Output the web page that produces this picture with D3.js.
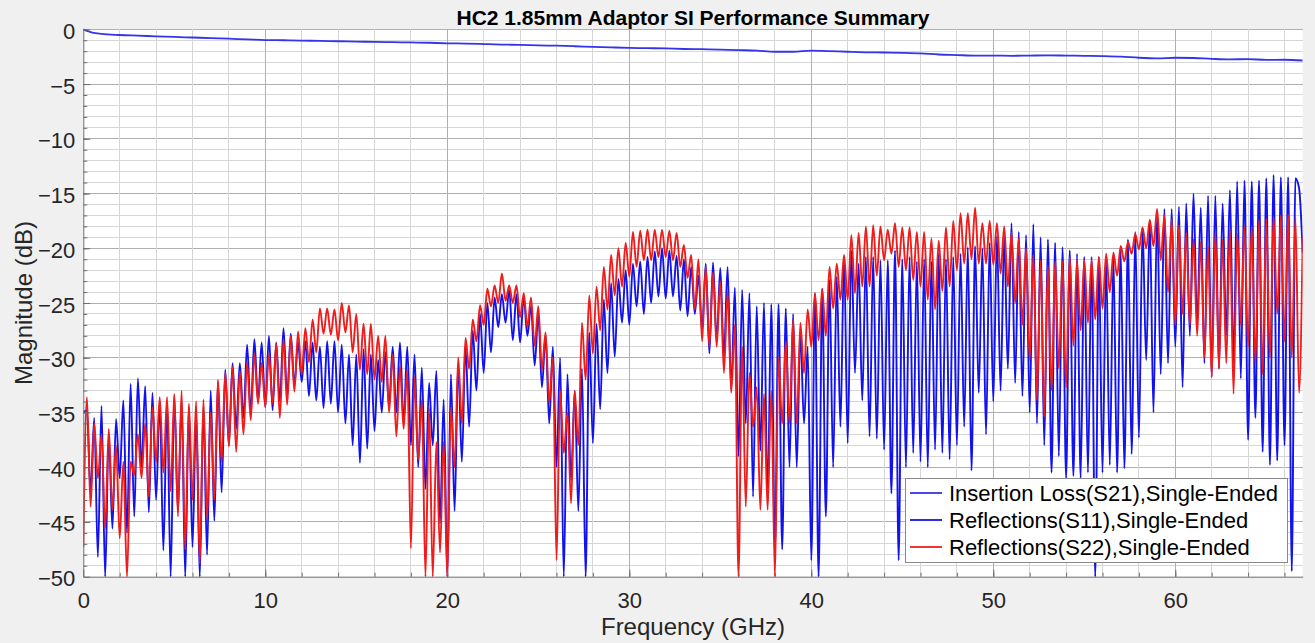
<!DOCTYPE html>
<html><head><meta charset="utf-8">
<script src="https://cdn.jsdelivr.net/npm/d3@7"></script>
<style>
html,body{margin:0;padding:0;background:#f0f0f0;}
svg{display:block;font-family:"Liberation Sans",Arial,Helvetica,sans-serif;}
</style></head><body>
<svg id="chart" width="1315" height="643"></svg>
<script>
// ---------- data ----------
const titleText = "HC2 1.85mm Adaptor SI Performance Summary";
const xLabel = "Frequency (GHz)";
const yLabel = "Magnitude (dB)";
const xTicks = [0, 10, 20, 30, 40, 50, 60];
const yTicks = [0, -5, -10, -15, -20, -25, -30, -35, -40, -45, -50];
const seriesNames = ["Insertion Loss(S21),Single-Ended", "Reflections(S11),Single-Ended", "Reflections(S22),Single-Ended"];

// S21 (insertion loss)
const s21Freq = [0,0.5,1,2,3,4,5,6,7,8,9,10,11,12,13,14,15,16,17,18,19,20,21,22,23,24,25,26,27,28,29,30,31,32,33,34,35,36,37,38,39,40,41,42,43,44,45,46,47,48,49,50,51,52,53,54,55,56,57,58,59,60,61,62,63,64,65,66,67];
const s21 = [0,-0.3,-0.42,-0.52,-0.58,-0.64,-0.7,-0.75,-0.8,-0.86,-0.92,-0.98,-1.0,-1.03,-1.06,-1.09,-1.12,-1.15,-1.18,-1.2,-1.23,-1.28,-1.3,-1.35,-1.4,-1.42,-1.47,-1.5,-1.55,-1.6,-1.65,-1.7,-1.72,-1.75,-1.8,-1.82,-1.85,-1.9,-1.95,-2.05,-2.05,-1.95,-2.0,-2.05,-2.1,-2.12,-2.15,-2.2,-2.3,-2.35,-2.4,-2.4,-2.42,-2.4,-2.38,-2.4,-2.42,-2.45,-2.5,-2.6,-2.65,-2.6,-2.62,-2.7,-2.75,-2.72,-2.8,-2.78,-2.85];

// S11 / S22 read every 0.2 GHz (alternating ripple minima / maxima), 0 .. 67 GHz
const s11 = [
-35.0,-34.8,-42.3,-35.5,-48.2,-34.4,-50.0,-37.0,-45.6,-35.6,
-41.0,-33.9,-46.0,-32.4,-44.5,-31.9,-40.0,-32.6,-44.1,-33.2,
-43.0,-34.0,-47.6,-34.2,-50.0,-33.5,-44.0,-34.0,-50.0,-34.5,
-47.3,-35.0,-50.0,-34.5,-48.0,-33.0,-44.9,-32.2,-42.3,-31.1,
-38.0,-30.5,-36.5,-30.5,-35.5,-28.8,-35.0,-28.3,-34.0,-28.6,
-34.5,-28.0,-34.8,-28.6,-34.0,-27.3,-33.5,-27.8,-32.5,-28.6,
-32.2,-28.5,-33.5,-28.6,-33.9,-29.0,-34.6,-28.5,-34.2,-28.5,
-35.0,-28.8,-36.0,-29.7,-38.0,-29.7,-39.6,-29.2,-38.3,-29.7,
-36.7,-30.2,-35.0,-29.5,-34.5,-29.0,-35.0,-28.6,-36.0,-29.0,
-38.0,-29.7,-40.0,-30.9,-42.0,-32.3,-38.0,-31.2,-45.1,-33.8,
-50.0,-31.5,-44.0,-30.5,-39.5,-29.0,-36.3,-27.5,-33.0,-26.0,
-31.4,-25.0,-29.5,-24.5,-27.2,-24.2,-26.8,-23.8,-28.4,-24.2,
-28.6,-24.5,-28.0,-25.3,-30.7,-26.0,-32.7,-27.9,-36.0,-29.0,
-40.0,-30.0,-50.0,-31.5,-41.2,-33.0,-44.0,-31.0,-50.0,-27.7,
-37.8,-26.9,-34.7,-24.7,-31.4,-23.2,-29.9,-22.8,-26.8,-22.0,
-27.0,-21.4,-25.3,-21.2,-26.0,-20.8,-25.0,-20.3,-24.4,-20.0,
-24.6,-20.2,-24.4,-20.7,-25.7,-21.0,-26.2,-21.7,-26.0,-22.5,
-27.5,-21.4,-29.6,-21.3,-28.5,-21.8,-29.9,-21.7,-32.9,-23.6,
-39.0,-23.8,-36.0,-24.1,-42.7,-25.3,-38.5,-25.0,-42.7,-25.1,
-47.5,-25.1,-47.5,-25.5,-40.0,-26.0,-40.0,-27.7,-36.0,-29.0,
-48.5,-24.1,-50.0,-23.7,-44.5,-22.9,-40.0,-22.6,-36.3,-20.8,
-37.8,-20.2,-31.4,-21.4,-33.9,-20.8,-37.2,-20.8,-37.4,-21.1,
-38.4,-21.1,-42.4,-20.2,-48.5,-21.0,-40.0,-20.8,-38.7,-21.2,
-39.5,-21.0,-40.0,-21.2,-38.4,-20.5,-38.7,-21.0,-39.3,-20.8,
-38.0,-20.5,-36.3,-19.9,-40.3,-19.8,-33.2,-20.0,-37.0,-19.5,
-34.0,-18.9,-33.0,-19.0,-31.0,-17.7,-32.3,-18.5,-33.5,-18.8,
-35.0,-17.8,-36.0,-19.0,-38.0,-19.2,-40.5,-19.5,-39.0,-19.9,
-41.0,-20.2,-40.8,-20.5,-41.0,-20.8,-40.5,-20.8,-50.0,-20.8,
-40.5,-21.1,-39.8,-20.8,-40.5,-20.2,-40.1,-19.2,-38.8,-18.5,
-37.3,-18.1,-30.2,-17.5,-35.0,-16.8,-31.5,-16.4,-30.5,-16.4,
-29.0,-16.2,-32.7,-15.9,-28.0,-15.0,-27.0,-16.3,-30.5,-15.2,
-31.7,-15.2,-31.0,-15.9,-28.0,-14.7,-30.5,-13.9,-31.9,-13.8,
-37.5,-13.9,-35.5,-13.8,-38.6,-13.6,-39.8,-13.3,-39.4,-13.5,
-38.0,-13.5,-49.5,-13.6,-14.5,-20.4
];
const s22 = [
-47.3,-33.6,-43.6,-36.0,-41.0,-37.0,-45.6,-36.5,-43.9,-38.0,
-46.5,-39.5,-50.0,-39.5,-40.7,-37.0,-41.0,-36.0,-42.7,-34.5,
-39.5,-33.6,-40.5,-33.6,-42.2,-33.3,-44.5,-33.0,-47.5,-34.2,
-43.0,-34.0,-48.8,-33.8,-44.7,-35.0,-43.0,-32.0,-39.5,-31.4,
-38.1,-30.8,-38.6,-31.2,-37.0,-30.4,-35.7,-29.6,-34.2,-30.5,
-34.5,-29.7,-34.2,-28.7,-35.5,-28.3,-34.3,-28.0,-33.1,-27.6,
-31.5,-27.3,-30.4,-26.5,-29.5,-25.5,-27.8,-25.5,-27.9,-25.6,
-28.4,-25.0,-27.7,-25.2,-29.5,-26.0,-31.1,-26.9,-31.5,-26.9,
-32.0,-28.0,-32.2,-28.0,-35.0,-29.7,-37.2,-30.8,-36.5,-31.1,
-47.4,-31.8,-39.3,-33.9,-50.0,-34.6,-50.0,-37.7,-47.8,-37.7,
-50.0,-34.6,-40.0,-30.0,-36.0,-28.2,-31.0,-26.5,-28.5,-25.2,
-27.0,-23.7,-25.3,-23.4,-25.0,-22.3,-24.8,-23.4,-25.0,-23.4,
-26.3,-24.1,-27.2,-24.5,-28.9,-25.3,-31.1,-27.7,-34.1,-30.0,
-48.5,-33.0,-38.7,-35.0,-43.3,-33.0,-38.0,-26.8,-32.0,-24.3,
-29.6,-23.5,-27.5,-21.7,-25.6,-20.6,-24.3,-20.0,-23.5,-19.5,
-22.6,-18.5,-21.7,-18.4,-21.1,-18.3,-21.1,-18.3,-20.8,-18.3,
-20.8,-18.4,-21.1,-18.6,-21.7,-19.7,-22.7,-20.6,-25.6,-21.0,
-28.5,-21.7,-29.0,-22.2,-29.0,-23.0,-31.4,-24.0,-33.2,-27.0,
-50.0,-29.0,-43.6,-31.4,-36.3,-32.7,-43.9,-33.3,-43.9,-33.0,
-50.0,-30.0,-36.0,-28.5,-36.0,-26.5,-36.0,-26.8,-31.4,-25.6,
-29.0,-24.1,-28.4,-23.7,-28.0,-21.7,-25.5,-21.4,-24.7,-20.6,
-24.7,-18.8,-24.1,-18.6,-23.5,-18.0,-23.5,-17.9,-22.5,-18.0,
-21.1,-18.3,-20.5,-17.7,-21.7,-18.1,-22.0,-18.1,-22.9,-18.5,
-23.5,-18.5,-24.7,-19.1,-25.6,-19.3,-23.9,-18.1,-23.5,-17.5,
-22.0,-16.8,-21.4,-16.8,-21.0,-16.3,-21.4,-17.7,-21.4,-17.5,
-21.5,-17.7,-22.3,-18.0,-23.5,-18.6,-25.0,-19.1,-27.0,-20.0,
-30.2,-20.6,-33.9,-21.1,-35.4,-21.6,-33.0,-21.2,-31.0,-21.2,
-32.7,-20.8,-28.9,-21.1,-27.5,-21.1,-26.8,-21.1,-26.5,-20.8,
-25.5,-20.5,-24.0,-20.4,-22.5,-19.8,-21.2,-19.4,-20.5,-18.7,
-20.1,-18.1,-20.0,-17.4,-19.8,-16.4,-21.1,-17.0,-24.0,-17.4,
-27.0,-17.9,-26.0,-18.6,-27.0,-19.2,-28.0,-19.4,-30.0,-19.8,
-31.8,-18.6,-31.0,-19.2,-30.5,-18.3,-33.3,-18.7,-27.0,-18.0,
-29.0,-18.0,-30.5,-17.4,-31.5,-17.3,-30.0,-17.1,-26.0,-17.0,
-28.5,-16.9,-30.0,-17.2,-33.2,-19.0
];
// sampling grid for S11/S22: one sample every 0.2 GHz
const sweepFreq = d3.range(s11.length).map(i => i / 5);

// ---------- drawing ----------
const svg = d3.select("#chart");
const X0 = 83.3, X1 = 1302.7, Y0 = 29.3, Y1 = 576.7;
const x = d3.scaleLinear().domain([0, 67]).range([X0, X1]);
const y = d3.scaleLinear().domain([-50, 0]).range([Y1, Y0]);

svg.append("rect").attr("width", 1315).attr("height", 643).attr("fill", "#f0f0f0");
svg.append("rect").attr("x", X0).attr("y", Y0).attr("width", X1 - X0).attr("height", Y1 - Y0).attr("fill", "#ffffff");

// grid
const grid = svg.append("g").attr("shape-rendering", "crispEdges");
const yMinor = d3.range(-49, 1, 1);
const xMinor = d3.range(2, 67, 2);
grid.selectAll("line.h").data(yMinor).join("line")
  .attr("x1", X0).attr("x2", X1).attr("y1", d => y(d)).attr("y2", d => y(d))
  .attr("stroke", d => d % 5 === 0 ? "#b0b0b0" : "#d6d6d6").attr("stroke-width", 1);
grid.selectAll("line.v").data(xMinor).join("line")
  .attr("y1", Y0).attr("y2", Y1).attr("x1", d => x(d)).attr("x2", d => x(d))
  .attr("stroke", d => d % 10 === 0 ? "#b0b0b0" : "#d6d6d6").attr("stroke-width", 1);

// curves
svg.append("clipPath").attr("id", "clip").append("rect")
  .attr("x", X0).attr("y", Y0 - 2).attr("width", X1 - X0).attr("height", Y1 - Y0 + 4);
const plot = svg.append("g").attr("clip-path", "url(#clip)");
const line = d3.line().curve(d3.curveMonotoneX).x(d => x(d[0])).y(d => y(d[1]));
plot.append("path").datum(s21Freq.map((f, i) => [f, s21[i]]))
  .attr("d", line).attr("fill", "none").attr("stroke", "#3434ea").attr("stroke-width", 1.8);
plot.append("path").datum(sweepFreq.map((f, i) => [f, s11[i]]))
  .attr("d", line).attr("fill", "none").attr("stroke", "#1212ee").attr("stroke-width", 1.9);
plot.append("path").datum(sweepFreq.map((f, i) => [f, s22[i]]))
  .attr("d", line).attr("fill", "none").attr("stroke", "#f01c1c").attr("stroke-width", 1.9);

// axes
const axisColor = "#6e6e6e";
const yAxis = svg.append("g").attr("transform", `translate(${X0},0)`)
  .call(d3.axisLeft(y).tickValues(yTicks).tickSizeInner(-7).tickSizeOuter(0).tickPadding(8));
svg.append("g").attr("transform", `translate(${X0},0)`)
  .call(d3.axisLeft(y).tickValues(yMinor).tickSizeInner(-4).tickSizeOuter(0).tickFormat(""))
  .call(g => g.select(".domain").remove());
const xAxis = svg.append("g").attr("transform", `translate(0,${Y1})`)
  .call(d3.axisBottom(x).tickValues(xTicks).tickSizeInner(-7).tickSizeOuter(0).tickPadding(15.5));
svg.append("g").attr("transform", `translate(0,${Y1})`)
  .call(d3.axisBottom(x).tickValues(xMinor).tickSizeInner(-4).tickSizeOuter(0).tickFormat(""))
  .call(g => g.select(".domain").remove());
svg.selectAll(".domain, .tick line").attr("stroke", axisColor);
yAxis.selectAll("text").attr("font-size", 22).attr("fill", "#262626").attr("dy", "0.41em")
  .attr("font-family", '"Liberation Sans",Arial,sans-serif');
xAxis.selectAll("text").attr("font-size", 22).attr("fill", "#262626")
  .attr("font-family", '"Liberation Sans",Arial,sans-serif');

// title & labels
svg.append("text").attr("x", (X0 + X1) / 2).attr("y", 25).attr("text-anchor", "middle")
  .attr("font-size", 21).attr("font-weight", "bold").attr("fill", "#000").text(titleText);
svg.append("text").attr("x", (X0 + X1) / 2).attr("y", 635).attr("text-anchor", "middle")
  .attr("font-size", 24).attr("fill", "#262626").text(xLabel);
svg.append("text").attr("transform", `translate(31.5,${(Y0 + Y1) / 2}) rotate(-90)`).attr("text-anchor", "middle")
  .attr("font-size", 24).attr("fill", "#262626").text(yLabel);

// legend
const legendColors = ["#3434ea", "#1212ee", "#f01c1c"];
const lg = svg.append("g").attr("transform", "translate(905,478)");
lg.append("rect").attr("width", 382).attr("height", 84).attr("fill", "#fff")
  .attr("stroke", "#8a8a8a").attr("stroke-width", 1).attr("shape-rendering", "crispEdges");
seriesNames.forEach((name, i) => {
  const cy = 15 + i * 27;
  lg.append("line").attr("x1", 5).attr("x2", 37).attr("y1", cy).attr("y2", cy)
    .attr("stroke", legendColors[i]).attr("stroke-width", 1.8);
  lg.append("text").attr("x", 44).attr("y", cy + 8).attr("font-size", 22).attr("fill", "#000").text(name);
});
</script>
</body></html>
